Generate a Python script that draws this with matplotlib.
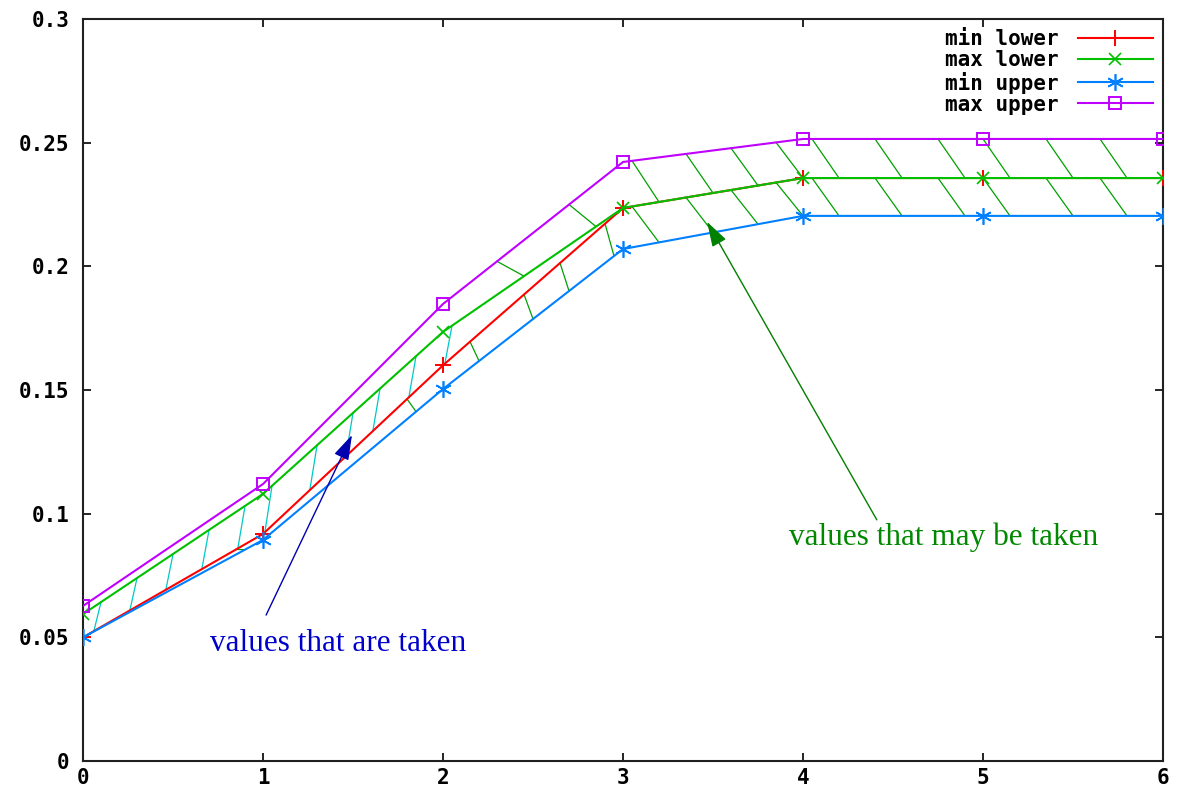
import numpy as np
import matplotlib.pyplot as plt


# =========================================================
# DATA
# =========================================================
X = [0, 1, 2, 3, 4, 5, 6]
MIN_LOWER = [0.050, 0.0918, 0.160, 0.2236, 0.2357, 0.2357, 0.2357]
MAX_LOWER = [0.0594, 0.108, 0.1735, 0.2236, 0.2357, 0.2357, 0.2357]
MIN_UPPER = [0.050, 0.0894, 0.1504, 0.207, 0.2204, 0.2204, 0.2204]
MAX_UPPER = [0.0627, 0.112, 0.1848, 0.2422, 0.2515, 0.2515, 0.2515]

Y_TICKS = [0, 0.05, 0.1, 0.15, 0.2, 0.25, 0.3]
Y_TICK_LABELS = ["0", "0.05", "0.1", "0.15", "0.2", "0.25", "0.3"]

# hatch stroke start positions (along x)
HATCH_TAKEN_X = [0.1, 0.3, 0.5, 0.7, 0.9, 1.05, 1.3, 1.5, 1.65, 1.85, 2.05]
HATCH_MAY_X = [2.3, 2.7, 3.05, 3.35, 3.6, 3.85, 4.05, 4.4, 4.75, 5.0, 5.35, 5.65]
HATCH_SMALL_X = [0.85, 1.8, 2.15, 2.45, 2.65, 2.9]

RED = "#ff0000"
GREEN = "#00c000"
BLUE = "#0080ff"
MAGENTA = "#c000ff"
CYAN = "#00c8c8"
HGREEN = "#00a000"

MONO = {"family": "DejaVu Sans Mono", "weight": "bold", "size": 15}


def interp(series, x):
    return float(np.interp(x, X, series))


def hatch(ax, xs, top, bottom, color, slant=0.1):
    for x0 in xs:
        x1 = min(x0 + slant, 6)
        ax.plot([x0, x1], [interp(top, x0), interp(bottom, x1)],
                color=color, lw=0.9, zorder=1)


def main():
    fig = plt.figure(figsize=(11.83, 7.89), dpi=100)
    ax = fig.add_axes([0.0702, 0.0355, 0.9129, 0.9404])

    # hatching between curves
    hatch(ax, HATCH_TAKEN_X, MAX_LOWER, MIN_LOWER, CYAN, slant=-0.04)
    hatch(ax, HATCH_MAY_X, MAX_UPPER, MAX_LOWER, HGREEN, slant=0.15)
    hatch(ax, [x for x in HATCH_MAY_X if x > 2.9], MAX_LOWER, MIN_UPPER, HGREEN, slant=0.15)
    hatch(ax, HATCH_SMALL_X, MIN_LOWER, MIN_UPPER, HGREEN, slant=0.05)

    ax.plot(X, MIN_LOWER, color=RED, lw=1.5, marker="+", ms=11, mew=1.4,
            label="min lower", zorder=3)
    ax.plot(X, MAX_LOWER, color=GREEN, lw=1.5, marker="x", ms=9, mew=1.2,
            label="max lower", zorder=3)
    ax.plot(X, MIN_UPPER, color=BLUE, lw=1.5, marker=(6, 2, 0), ms=12, mew=1.2,
            label="min upper", zorder=3)
    ax.plot(X, MAX_UPPER, color=MAGENTA, lw=1.5, marker="s", ms=9, mew=1.4,
            fillstyle="none", label="max upper", zorder=3)

    ax.set_xlim(0, 6)
    ax.set_ylim(0, 0.3)
    ax.set_xticks(X)
    ax.set_yticks(Y_TICKS)
    ax.set_yticklabels(Y_TICK_LABELS)
    ax.tick_params(direction="in", length=6, width=1.2, top=True, right=True)
    ax.tick_params(axis="y", pad=10)
    ax.tick_params(axis="x", pad=5)
    for lab in ax.get_xticklabels() + ax.get_yticklabels():
        lab.set_fontproperties(MONO)
    for s in ax.spines.values():
        s.set_linewidth(1.5)
        s.set_color("#202020")

    ax.legend(loc="upper right", frameon=False, markerfirst=False,
              handlelength=3.6, labelspacing=0.05, borderaxespad=0.1,
              handletextpad=0.9, prop=MONO)

    # annotations
    ax.annotate("", xy=(1.494, 0.1318), xytext=(1.017, 0.059),
                arrowprops=dict(arrowstyle="-|>,head_length=0.7,head_width=0.22",
                                color="#0000b0", lw=1.0,
                                mutation_scale=22, shrinkA=0, shrinkB=0))
    ax.text(1.417, 0.0477, "values that are taken", color="#0000cc",
            fontsize=22.5, family="Liberation Serif", ha="center", va="center")

    ax.annotate("", xy=(3.467, 0.218), xytext=(4.41, 0.0975),
                arrowprops=dict(arrowstyle="-|>,head_length=0.7,head_width=0.22",
                                color="#008000", lw=1.0,
                                mutation_scale=22, shrinkA=0, shrinkB=0))
    ax.text(4.78, 0.0906, "values that may be taken", color="#008800",
            fontsize=22.5, family="Liberation Serif", ha="center", va="center")

    fig.savefig("out.png", dpi=100)
    plt.close(fig)


if __name__ == "__main__":
    main()
